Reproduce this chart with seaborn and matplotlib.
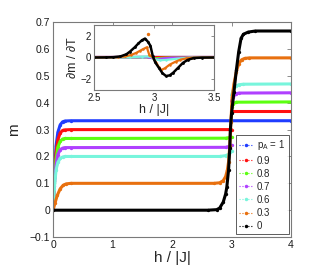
import numpy as np
import pandas as pd
import matplotlib
matplotlib.use("Agg")
import matplotlib.pyplot as plt
import seaborn as sns
from matplotlib.lines import Line2D

# main panel data: m vs h/|J| for each p_A
labels = ["$p_A$ = 1", "0.9", "0.8", "0.7", "0.6", "0.3", "0"]
colors = ["#1f3cff", "#ff1010", "#5cff10", "#b040ff", "#78f5dc", "#e8700f", "#000000"]

h_blue = [0, 0.02, 0.05, 0.08, 0.12, 0.16, 0.2, 0.3, 4.0]
m_blue = [0, 0.12, 0.24, 0.29, 0.318, 0.329, 0.332, 0.333, 0.333]

h_red_lo = [0, 0.02, 0.05, 0.08, 0.12, 0.16, 0.2, 0.3, 3.0]
m_red_lo = [0, 0.11, 0.215, 0.262, 0.288, 0.297, 0.299, 0.3, 0.3]
h_red_hi = [3.0, 4.0]
m_red_hi = [0.368, 0.368]

h_green_lo = [0, 0.02, 0.05, 0.08, 0.12, 0.16, 0.2, 0.3, 2.9, 3.0]
m_green_lo = [0, 0.10, 0.19, 0.235, 0.257, 0.265, 0.267, 0.267, 0.268, 0.272]
h_green_hi = [3.0, 3.03, 3.08, 4.0]
m_green_hi = [0.385, 0.397, 0.402, 0.403]

h_purple_lo = [0, 0.02, 0.05, 0.08, 0.12, 0.16, 0.2, 0.3, 2.9, 2.97, 3.0]
m_purple_lo = [0, 0.09, 0.17, 0.207, 0.225, 0.231, 0.233, 0.233, 0.234, 0.238, 0.242]
h_purple_hi = [3.0, 3.03, 3.07, 3.12, 4.0]
m_purple_hi = [0.405, 0.422, 0.433, 0.436, 0.437]

h_cyan_lo = [0, 0.02, 0.05, 0.08, 0.12, 0.16, 0.2, 0.3, 2.8, 2.9, 2.95, 2.98, 3.0]
m_cyan_lo = [0, 0.08, 0.15, 0.178, 0.193, 0.198, 0.2, 0.2, 0.2, 0.203, 0.208, 0.215, 0.222]
h_cyan_hi = [3.0, 3.03, 3.07, 3.12, 3.2, 4.0]
m_cyan_hi = [0.428, 0.448, 0.461, 0.467, 0.469, 0.47]

h_orange = [0, 0.03, 0.07, 0.12, 0.17, 0.22, 0.3, 2.7, 2.8, 2.86, 2.9, 2.93, 2.95,
            2.97, 2.99, 3.01, 3.04, 3.08, 3.12, 3.17, 3.22, 3.3, 4.0]
m_orange = [0, 0.025, 0.055, 0.08, 0.093, 0.098, 0.1, 0.1, 0.102, 0.11, 0.125, 0.15, 0.18,
            0.24, 0.33, 0.42, 0.47, 0.515, 0.545, 0.56, 0.565, 0.567, 0.567]

h_black = [0, 2.6, 2.75, 2.8, 2.86, 2.9, 2.92, 2.95, 2.97, 2.98, 3.0, 3.04, 3.08,
           3.12, 3.16, 3.2, 3.28, 3.4, 4.0]
m_black = [0, 0, 0.002, 0.008, 0.03, 0.06, 0.085, 0.15, 0.23, 0.3, 0.36, 0.44, 0.52,
           0.59, 0.64, 0.655, 0.663, 0.667, 0.667]

# inset data: dm/dT vs h/|J|
hi_flat = [2.5, 3.5]
v_flat = [0, 0]

hi_green = [2.5, 2.95, 3.0, 3.05, 3.1, 3.5]
v_green = [0, 0.01, -0.08, -0.05, -0.01, 0]

hi_purple = [2.5, 2.95, 3.0, 3.03, 3.08, 3.15, 3.5]
v_purple = [0, 0.02, -0.1, -0.15, -0.08, -0.01, 0]

hi_cyan = [2.5, 2.8, 2.9, 2.95, 2.98, 3.0, 3.05, 3.1, 3.2, 3.3, 3.5]
v_cyan = [0, 0.03, 0.08, 0.1, 0.05, -0.15, -0.25, -0.22, -0.1, -0.02, 0]

hi_orange = [2.5, 2.7, 2.76, 2.81, 2.85, 2.88, 2.91, 2.94, 2.96, 2.99, 3.02, 3.04,
             3.06, 3.09, 3.13, 3.18, 3.22, 3.27, 3.32, 3.5]
v_orange = [0, 0.02, 0.1, 0.24, 0.42, 0.6, 0.78, 0.94, 0.25, 0.0, -0.5, -0.9,
            -1.15, -1.0, -0.66, -0.38, -0.2, -0.08, -0.02, 0]
hi_orange_spike = [2.95]
v_orange_spike = [2.2]

hi_black = [2.5, 2.6, 2.66, 2.72, 2.77, 2.8, 2.84, 2.87, 2.9, 2.925, 2.95, 2.97, 2.99,
            3.01, 3.04, 3.07, 3.1, 3.13, 3.16, 3.2, 3.24, 3.28, 3.33, 3.4, 3.5]
v_black = [0, 0.01, 0.03, 0.1, 0.3, 0.55, 0.95, 1.3, 1.6, 1.75, 1.44, 1.08, 0.1,
           -0.45, -0.95, -1.45, -1.71, -1.65, -1.4, -0.95, -0.5, -0.22, -0.05, -0.01, 0]

sns.set_theme(style="white")
plt.rcParams["font.family"] = ["Liberation Sans", "DejaVu Sans"]
plt.rcParams["mathtext.fontset"] = "custom"
plt.rcParams["mathtext.rm"] = "Liberation Sans"
plt.rcParams["mathtext.it"] = "Liberation Sans"

frame = "#7a7a7a"
fig = plt.figure(figsize=(3.16, 2.70), dpi=100)
ax = fig.add_axes([0.168, 0.122, 0.753, 0.796])


def curve(a, x, y, c, lw=2.2, ms=2.4):
    sns.lineplot(x=x, y=y, color=c, ax=a, linewidth=lw, marker="o", markersize=ms,
                 markeredgewidth=0, sort=False, estimator=None)


curve(ax, h_blue, m_blue, colors[0])
curve(ax, h_red_lo, m_red_lo, colors[1])
curve(ax, h_red_hi, m_red_hi, colors[1])
curve(ax, h_green_lo, m_green_lo, colors[2])
curve(ax, h_green_hi, m_green_hi, colors[2])
curve(ax, h_purple_lo, m_purple_lo, colors[3])
curve(ax, h_purple_hi, m_purple_hi, colors[3])
curve(ax, h_cyan_lo, m_cyan_lo, colors[4])
curve(ax, h_cyan_hi, m_cyan_hi, colors[4])
curve(ax, h_orange, m_orange, colors[5])
curve(ax, h_black, m_black, colors[6])

ax.set_xlim(0, 4)
ax.set_ylim(-0.1, 0.7)
ax.set_xticks([0, 1, 2, 3, 4])
ax.set_xticklabels(["0", "1", "2", "3", "4"])
yt = [-0.1, 0, 0.1, 0.2, 0.3, 0.4, 0.5, 0.6, 0.7]
ax.set_yticks(yt)
ax.set_yticklabels(["\u22120.1", "0", "0.1", "0.2", "0.3", "0.4", "0.5", "0.6", "0.7"])
ax.set_xlabel("h / |J|", fontsize=11, labelpad=1)
ax.set_ylabel("m", fontsize=11, labelpad=6)

for a in [ax]:
    a.tick_params(direction="in", top=True, right=True, length=3, width=0.6,
                  color=frame, labelsize=7.5, pad=2, labelcolor="#1a1a1a")
    for s in a.spines.values():
        s.set_color(frame)
        s.set_linewidth(0.8)

handles = [Line2D([0], [0], color=c, linestyle=":", linewidth=0.8, marker="o",
                  markersize=2.5, markeredgewidth=0) for c in colors]
leg = ax.legend(handles, labels, loc="lower right", bbox_to_anchor=(0.99, 0.012),
                fontsize=7, frameon=True, fancybox=False, edgecolor="#333333",
                handlelength=1.4, handletextpad=0.4, labelspacing=0.32,
                borderpad=0.35, borderaxespad=0.0)
leg.get_frame().set_linewidth(0.7)

# inset
ins = fig.add_axes([0.2975, 0.6667, 0.380, 0.2407])
curve(ins, hi_flat, v_flat, colors[0], lw=1.6, ms=1.8)
curve(ins, hi_flat, v_flat, colors[1], lw=1.6, ms=1.8)
curve(ins, hi_green, v_green, colors[2], lw=1.6, ms=1.8)
curve(ins, hi_purple, v_purple, colors[3], lw=1.6, ms=1.8)
curve(ins, hi_cyan, v_cyan, colors[4], lw=1.6, ms=1.8)
curve(ins, hi_orange, v_orange, colors[5], lw=1.6, ms=1.8)
sns.scatterplot(x=hi_orange_spike, y=v_orange_spike, color=colors[5], s=6,
                linewidth=0, ax=ins)
curve(ins, hi_black, v_black, colors[6], lw=1.8, ms=2.0)

ins.set_xlim(2.5, 3.5)
ins.set_ylim(-3, 3)
ins.set_xticks([2.5, 3, 3.5])
ins.set_xticklabels(["2.5", "3", "3.5"])
ins.set_yticks([-2, 0, 2])
ins.set_yticklabels(["\u22122", "0", "2"])
ins.set_xlabel("h / |J|", fontsize=9, labelpad=1)
ins.set_ylabel("\u2202m / \u2202T", fontsize=9, labelpad=1)
ins.tick_params(direction="in", top=True, right=True, length=2.5, width=0.6,
                color=frame, labelsize=7, pad=2, labelcolor="#1a1a1a")
for s in ins.spines.values():
    s.set_color(frame)
    s.set_linewidth(0.8)

fig.savefig("out.png", dpi=100)
